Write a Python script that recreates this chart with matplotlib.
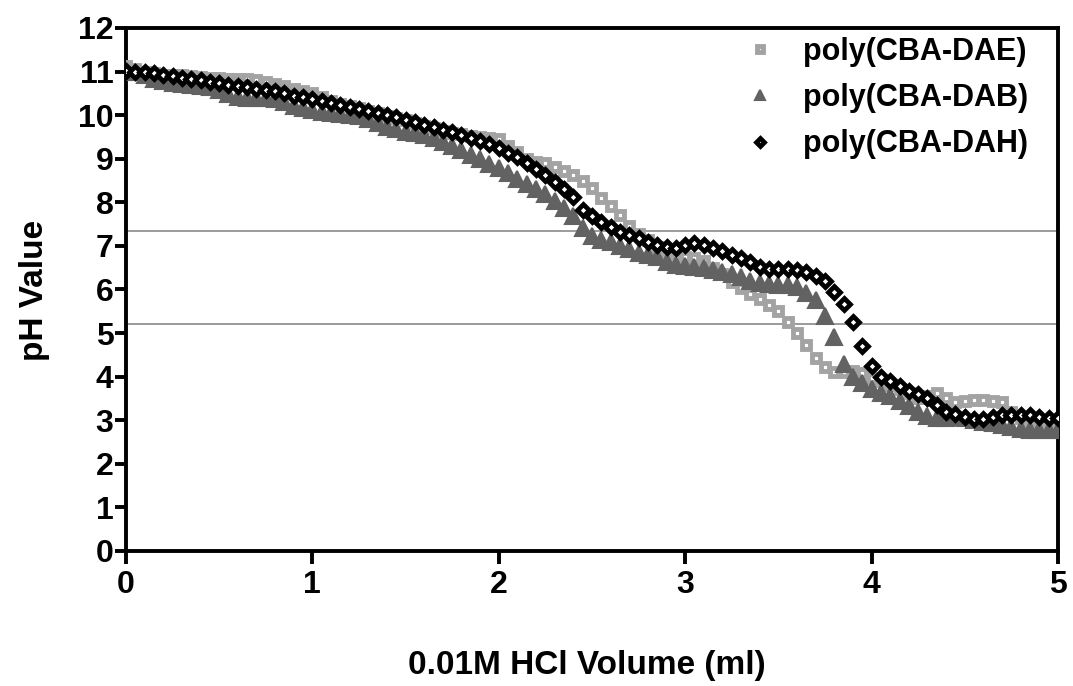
import numpy as np
import matplotlib
matplotlib.use("Agg")
import matplotlib.pyplot as plt

# HCl volume (ml), sampled every 0.05 ml
volume = [round(0.05 * i, 2) for i in range(101)]

ph_dae = [11.12, 11.05, 11.00, 10.96, 10.93, 10.92, 10.92, 10.90, 10.88, 10.86,
          10.85, 10.84, 10.84, 10.82, 10.80, 10.76, 10.72, 10.66, 10.60, 10.56,
          10.50, 10.42, 10.32, 10.26, 10.22, 10.16, 10.10, 10.04, 9.98, 9.94,
          9.88, 9.82, 9.76, 9.70, 9.64, 9.60, 9.56, 9.53, 9.50, 9.48,
          9.46, 9.30, 9.15, 9.00, 8.92, 8.90, 8.82, 8.72, 8.62, 8.50,
          8.32, 8.10, 7.92, 7.70, 7.45, 7.28, 7.13, 6.98, 6.85, 6.76,
          6.74, 6.72, 6.65, 6.50, 6.36, 6.18, 6.04, 5.90, 5.78, 5.65,
          5.50, 5.25, 5.00, 4.72, 4.42, 4.22, 4.10, 4.10, 4.12, 4.08,
          3.98, 3.90, 3.80, 3.72, 3.62, 3.50, 3.55, 3.62, 3.50, 3.42,
          3.44, 3.46, 3.46, 3.44, 3.42, 3.20, 3.05, 2.98, 2.95, 2.92,
          2.90]

ph_dab = [11.00, 10.98, 10.92, 10.84, 10.78, 10.74, 10.72, 10.70, 10.68, 10.64,
          10.58, 10.48, 10.42, 10.40, 10.40, 10.39, 10.36, 10.30, 10.22, 10.16,
          10.12, 10.08, 10.05, 10.03, 10.00, 9.97, 9.92, 9.82, 9.72, 9.68,
          9.62, 9.59, 9.55, 9.47, 9.38, 9.30, 9.20, 9.08, 9.00, 8.88,
          8.78, 8.68, 8.54, 8.42, 8.30, 8.18, 8.04, 7.88, 7.68, 7.42,
          7.22, 7.14, 7.08, 7.00, 6.92, 6.84, 6.78, 6.74, 6.62, 6.56,
          6.53, 6.51, 6.49, 6.45, 6.40, 6.35, 6.28, 6.20, 6.14, 6.12,
          6.10, 6.10, 6.05, 5.92, 5.75, 5.40, 4.90, 4.30, 4.00, 3.85,
          3.72, 3.62, 3.55, 3.45, 3.32, 3.18, 3.10, 3.06, 3.05, 3.07,
          3.05, 3.00, 2.96, 2.94, 2.90, 2.85, 2.80, 2.78, 2.78, 2.78,
          2.78]

ph_dah = [11.02, 11.00, 10.98, 10.96, 10.92, 10.89, 10.86, 10.84, 10.80, 10.77,
          10.73, 10.70, 10.67, 10.64, 10.61, 10.58, 10.55, 10.51, 10.45, 10.41,
          10.37, 10.32, 10.28, 10.24, 10.19, 10.14, 10.10, 10.05, 10.00, 9.95,
          9.89, 9.84, 9.78, 9.72, 9.66, 9.61, 9.55, 9.48, 9.40, 9.33,
          9.25, 9.14, 9.03, 8.90, 8.77, 8.62, 8.46, 8.30, 8.12, 7.82,
          7.68, 7.55, 7.43, 7.33, 7.25, 7.18, 7.10, 7.03, 6.98, 6.96,
          7.02, 7.06, 7.02, 6.95, 6.88, 6.80, 6.72, 6.62, 6.52, 6.48,
          6.48, 6.47, 6.45, 6.40, 6.32, 6.20, 5.95, 5.66, 5.25, 4.70,
          4.25, 4.00, 3.90, 3.78, 3.68, 3.60, 3.52, 3.35, 3.20, 3.14,
          3.08, 3.02, 3.02, 3.08, 3.12, 3.12, 3.11, 3.11, 3.08, 3.05,
          3.05]

ref_lines = [7.35, 5.2]
series_names = ["poly(CBA-DAE)", "poly(CBA-DAB)", "poly(CBA-DAH)"]
x_ticks = [0, 1, 2, 3, 4, 5]
y_ticks = list(range(0, 13))

FONT = "Liberation Sans"

fig = plt.figure(figsize=(10.73, 6.86), dpi=100)
ax = fig.add_axes([0.1174, 0.1968, 0.8686, 0.7624])

for y in ref_lines:
    ax.axhline(y, color="#808080", lw=1.1, zorder=1)

ax.plot(volume, ph_dae, ls="none", marker="s", ms=6.3, mfc="white",
        mec="#a3a3a3", mew=3.5, label=series_names[0], zorder=3)
ax.plot(volume, ph_dab, ls="none", marker="^", ms=11, mfc="#626262",
        mec="#626262", mew=1.5, label=series_names[1], zorder=4)
ax.plot(volume, ph_dah, ls="none", marker="D", ms=5.8, mfc="white",
        mec="black", mew=3.4, label=series_names[2], zorder=5)

ax.set_xlim(0, 5)
ax.set_ylim(0, 12)
ax.set_xticks(x_ticks)
ax.set_yticks(y_ticks)

for side in ["left", "bottom", "right", "top"]:
    ax.spines[side].set_linewidth(2.8)
    ax.spines[side].set_color("black")

ax.tick_params(axis="both", which="major", direction="out", width=2.8,
               top=False, right=False)
ax.tick_params(axis="y", length=8, pad=1)
ax.tick_params(axis="x", length=9, pad=5)

for lab in ax.get_xticklabels() + ax.get_yticklabels():
    lab.set_fontfamily(FONT)
    lab.set_fontweight("bold")
    lab.set_fontsize(23)

ax.set_xlabel("0.01M HCl Volume (ml)", fontfamily=FONT, fontweight="bold",
              fontsize=24)
ax.set_ylabel("pH Value", fontfamily=FONT, fontweight="bold", fontsize=24)
ax.xaxis.set_label_coords(0.4946, -0.19)
ax.yaxis.set_label_coords(-0.081, 0.499)

leg = ax.legend(loc="upper right", bbox_to_anchor=(0.968, 0.983), frameon=False,
                prop={"family": FONT, "weight": "bold", "size": 22},
                handlelength=1.0, handletextpad=0.9, labelspacing=0.53,
                borderpad=0, borderaxespad=0, markerscale=0.7)

fig.savefig("out.png", dpi=100, facecolor="white")
